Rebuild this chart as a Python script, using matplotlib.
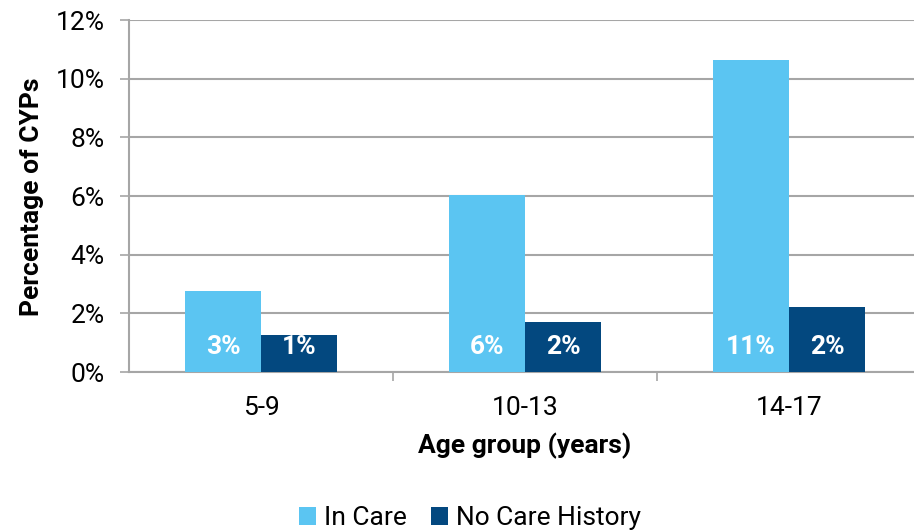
#!/usr/bin/env python3

import numpy as np
import matplotlib.pyplot as plt
from matplotlib.ticker import FixedLocator, FuncFormatter

age_groups = ['5-9', '10-13', '14-17']
in_care = [2.76, 6.03, 10.64]
no_care_history = [1.26, 1.70, 2.22]
series_names = ['In Care', 'No Care History']

LIGHT = '#5BC5F2'
DARK = '#03487F'
GRID = '#A6A6A6'
FS = 19


def main():
    plt.rcParams['font.family'] = ['Roboto', 'DejaVu Sans']

    fig = plt.figure(figsize=(9.14, 5.31), dpi=100)
    # plot area runs a little past the right edge of the figure
    ax = fig.add_axes([129 / 914, 1 - 372 / 531, 792 / 914, 352 / 531])

    x = np.arange(len(age_groups))
    w = 0.288
    b1 = ax.bar(x - w / 2, in_care, w, color=LIGHT, label=series_names[0],
                zorder=3)
    b2 = ax.bar(x + w / 2, no_care_history, w, color=DARK,
                label=series_names[1], zorder=3)

    for bars in (b1, b2):
        for rect in bars:
            v = rect.get_height()
            ax.text(rect.get_x() + rect.get_width() / 2, 0.86,
                    '%d%%' % round(v), ha='center', va='center',
                    color='white', fontsize=FS, fontweight='bold', zorder=4)

    ax.set_xlim(-0.5, 2.5)
    ax.set_ylim(0, 12)
    ax.set_yticks(range(0, 13, 2))
    ax.yaxis.set_major_formatter(FuncFormatter(lambda v, p: '%d%%' % v))
    ax.grid(axis='y', color=GRID, linewidth=1.5, zorder=0)

    # tick marks sit between the groups, labels under the group centres
    ax.xaxis.set_major_locator(FixedLocator([0.5, 1.5]))
    ax.xaxis.set_major_formatter(FuncFormatter(lambda v, p: ''))
    ax.xaxis.set_minor_locator(FixedLocator(x))
    ax.set_xticklabels(age_groups, minor=True)
    ax.tick_params(axis='x', which='major', length=6.5, width=1.2,
                   color=GRID, direction='out')
    ax.tick_params(axis='x', which='minor', length=0, pad=17,
                   labelsize=FS)
    ax.tick_params(axis='y', length=6.5, width=1.2, color=GRID, pad=11,
                   labelsize=FS)

    for side in ('top', 'right'):
        ax.spines[side].set_visible(False)
    for side in ('left', 'bottom'):
        ax.spines[side].set_color(GRID)
        ax.spines[side].set_linewidth(1.5)

    ax.set_xlabel('Age group (years)', fontsize=FS, fontweight='bold',
                  va='center')
    ax.xaxis.set_label_coords((525 - 129) / 792, (372 - 446) / 352)
    ax.set_ylabel('Percentage of CYPs', fontsize=FS, fontweight='bold',
                  va='center')
    ax.yaxis.set_label_coords((32 - 129) / 792, (372 - 197) / 352)

    fig.legend(handles=[b1, b2], loc='center', ncol=2, frameon=False,
               bbox_to_anchor=(470 / 914, 1 - 518 / 531), fontsize=FS,
               handlelength=0.65, handleheight=0.65, handletextpad=0.3,
               columnspacing=0.9, borderpad=0)

    fig.savefig('out.png', dpi=100)
    plt.close(fig)


if __name__ == '__main__':
    main()
